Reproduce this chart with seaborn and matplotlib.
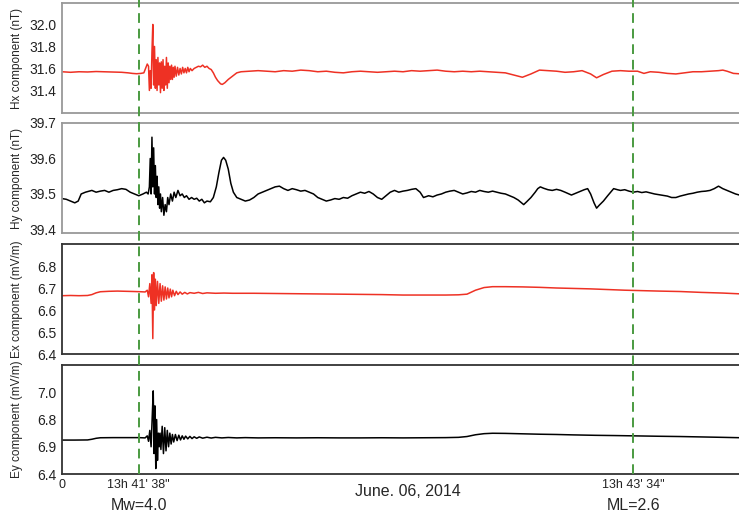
import matplotlib
matplotlib.use("Agg")
import matplotlib.pyplot as plt
import matplotlib.transforms as mtransforms
from matplotlib.lines import Line2D
import seaborn as sns

# ---------------- data (seconds from chart origin) ----------------
hx_t = [0, 2, 4, 6, 8, 10, 12, 14, 15.5, 16.5, 17.5, 18.5, 19.2, 19.6, 20.0, 20.3,
        20.5, 20.7, 20.9, 21.1, 21.3, 21.5, 21.7, 21.9, 22.1, 22.3, 22.5, 22.7, 22.9, 23.1,
        23.3, 23.5, 23.7, 23.9, 24.1, 24.3, 24.5, 24.7, 24.9, 25.1, 25.3, 25.5, 25.7, 25.9,
        26.1, 26.3, 26.5, 26.8, 27.1, 27.4, 27.7, 28.0, 28.3, 28.6, 28.9, 29.2, 29.5, 29.8,
        30.1, 30.5, 31.0, 31.5, 32.0, 32.5, 33.0, 33.5, 34.0, 34.5, 35.0, 35.5, 36.0, 36.5,
        37.2, 37.6, 38.2, 39.0, 40.0, 41.0, 42.0, 44, 46, 48, 50, 52, 54, 56, 58, 60, 62,
        64, 66, 68, 70, 72, 74, 76, 78, 80, 82, 84, 86, 88, 90, 92, 94, 96, 98, 100, 102,
        104, 106, 108, 110, 112, 114, 116, 118, 120, 122, 124, 125.4, 127, 129, 131, 133,
        135, 136.5, 138, 140, 142, 144, 146, 148, 150, 152, 154, 155, 156, 157.5, 159.5]
hx_v = [31.57, 31.565, 31.57, 31.568, 31.572, 31.57, 31.568, 31.565, 31.56, 31.555, 31.552,
        31.555, 31.56, 31.60, 31.64, 31.62,
        31.40, 31.58, 31.42, 31.75, 32.0, 31.45, 31.80, 31.42, 31.68, 31.40, 31.70, 31.45,
        31.65, 31.38, 31.66, 31.42, 31.68, 31.40, 31.62, 31.45, 31.70, 31.42, 31.65, 31.47,
        31.62, 31.50, 31.63, 31.50, 31.61, 31.52, 31.62, 31.53, 31.61, 31.54, 31.60, 31.55,
        31.61, 31.56, 31.60, 31.56, 31.61, 31.57, 31.60, 31.58, 31.60, 31.61, 31.62, 31.615,
        31.63, 31.61, 31.62, 31.60, 31.59, 31.56, 31.52, 31.49, 31.46, 31.455, 31.47, 31.50,
        31.53, 31.56, 31.57, 31.575, 31.58, 31.575, 31.57, 31.58, 31.575, 31.585, 31.58,
        31.57, 31.575, 31.565, 31.56, 31.57, 31.575, 31.57, 31.565, 31.57, 31.575, 31.57,
        31.58, 31.575, 31.58, 31.585, 31.575, 31.57, 31.575, 31.57, 31.575, 31.57, 31.565,
        31.56, 31.54, 31.52, 31.55, 31.585, 31.58, 31.575, 31.565, 31.57, 31.58, 31.55,
        31.515, 31.545, 31.575, 31.58, 31.575, 31.575, 31.555, 31.57, 31.565, 31.555, 31.55,
        31.56, 31.57, 31.57, 31.575, 31.58, 31.585, 31.575, 31.555, 31.55]

hy_t_early = [0, 1, 2, 3, 3.8, 4.5, 5.5, 7, 8, 9, 10, 11, 12, 13, 14, 15, 16, 17, 18, 19,
              19.8, 20.2,
              20.5, 20.7, 20.9, 21.1, 21.3, 21.5, 21.7, 21.9, 22.1, 22.3, 22.5, 22.7, 22.9,
              23.1, 23.3, 23.6, 23.9, 24.2, 24.5, 24.8, 25.1, 25.5, 25.9, 26.3, 26.7, 27.2,
              27.7, 28.2, 28.7, 29.2, 29.8, 30.4, 31, 31.6, 32.2, 32.8, 33.4, 34, 34.8, 35.5,
              36.2, 36.8, 37.4, 37.9, 38.4, 39, 39.6, 40.2]
hy_v_early = [39.487, 39.485, 39.48, 39.475, 39.48, 39.50, 39.505, 39.51, 39.505, 39.508,
              39.51, 39.505, 39.51, 39.512, 39.515, 39.513, 39.505, 39.50, 39.495, 39.50,
              39.505, 39.50,
              39.52, 39.60, 39.50, 39.66, 39.52, 39.63, 39.50, 39.58, 39.49, 39.55, 39.47,
              39.52, 39.46, 39.50, 39.45, 39.49, 39.44, 39.47, 39.45, 39.49, 39.47, 39.50,
              39.48, 39.505, 39.49, 39.51, 39.495, 39.50, 39.49, 39.495, 39.485, 39.49,
              39.485, 39.488, 39.48, 39.485, 39.475, 39.48, 39.478, 39.49, 39.52, 39.56,
              39.595, 39.603, 39.595, 39.57, 39.53, 39.505]
hy_t_mid = [41, 42, 43, 44, 45, 46, 47, 48, 49, 50, 51, 52, 53, 54, 55, 56, 57, 58, 59, 60,
            61, 62, 63, 64, 65, 66, 67, 68, 69, 70, 71, 72, 73, 74, 75, 76, 77, 78, 79, 80,
            81, 82, 83, 84, 84.8, 86, 87, 88, 89, 90, 91, 92, 93, 94, 95, 96, 97, 98, 99, 100]
hy_v_mid = [39.49, 39.485, 39.48, 39.483, 39.49, 39.50, 39.505, 39.51, 39.515, 39.52,
            39.522, 39.515, 39.51, 39.515, 39.512, 39.508, 39.51, 39.505, 39.50, 39.49,
            39.485, 39.48, 39.483, 39.487, 39.485, 39.49, 39.488, 39.495, 39.50, 39.505,
            39.502, 39.507, 39.50, 39.49, 39.485, 39.495, 39.505, 39.51, 39.505, 39.508,
            39.51, 39.513, 39.515, 39.505, 39.49, 39.495, 39.492, 39.497, 39.50, 39.505,
            39.508, 39.51, 39.505, 39.50, 39.503, 39.507, 39.505, 39.51, 39.507, 39.505]
hy_t_late = [101, 102, 103, 104, 105, 106, 107, 107.8, 108.3, 109, 110, 111, 111.6, 112.2,
             113, 114, 115, 116, 117, 118, 119.5, 120.5, 121.5, 122.5, 123.3, 124, 124.8,
             125.4, 126, 127, 128, 129.4, 130.3, 131, 132, 133, 134, 135, 136, 137, 138,
             139, 140, 141, 142, 143, 144, 145, 146, 147, 148, 149, 150, 151, 152, 153, 154,
             155, 156, 157, 158, 159.5]
hy_v_late = [39.508, 39.505, 39.502, 39.50, 39.495, 39.49, 39.483, 39.475, 39.47, 39.478,
             39.49, 39.505, 39.515, 39.52, 39.516, 39.512, 39.51, 39.513, 39.51, 39.505,
             39.497, 39.502, 39.507, 39.512, 39.515, 39.50, 39.475, 39.46, 39.468, 39.48,
             39.495, 39.515, 39.512, 39.51, 39.512, 39.508, 39.505, 39.507, 39.504, 39.506,
             39.503, 39.50, 39.498, 39.496, 39.494, 39.49, 39.49, 39.494, 39.497, 39.50,
             39.502, 39.505, 39.507, 39.508, 39.51, 39.515, 39.522, 39.515, 39.51, 39.505,
             39.50, 39.495]

ex_t = [0, 2, 4, 6, 7, 8, 9, 11, 13, 15, 17, 18.5, 19.5,
        20.0, 20.3, 20.6, 20.9, 21.1, 21.3, 21.5, 21.7, 21.9, 22.1, 22.4, 22.7, 23.0, 23.3,
        23.6, 23.9, 24.2, 24.5, 24.8, 25.1, 25.4, 25.7, 26.0, 26.4, 26.8, 27.2, 27.7, 28.2,
        28.8, 29.4, 30, 31, 32, 33, 34, 36, 38, 40, 45, 50, 55, 60, 65, 70, 75, 80, 85, 90,
        93, 95, 97, 99, 101, 104, 108, 112, 116, 120, 124, 128, 132, 136, 140, 145, 150, 155,
        159.5]
ex_v = [6.665, 6.666, 6.665, 6.666, 6.670, 6.678, 6.683, 6.685, 6.686, 6.685, 6.684, 6.683,
        6.682,
        6.69, 6.66, 6.72, 6.63, 6.76, 6.47, 6.77, 6.60, 6.74, 6.62, 6.73, 6.63, 6.72, 6.64,
        6.71, 6.645, 6.705, 6.65, 6.70, 6.655, 6.695, 6.66, 6.69, 6.665, 6.685, 6.67, 6.682,
        6.672, 6.68, 6.673, 6.679, 6.676, 6.68, 6.675, 6.678, 6.676, 6.677, 6.676, 6.676,
        6.675, 6.674, 6.673, 6.672, 6.671, 6.670, 6.668, 6.668, 6.668, 6.669, 6.672, 6.690,
        6.702, 6.706, 6.706, 6.705, 6.703, 6.700, 6.698, 6.696, 6.693, 6.690, 6.688, 6.686,
        6.684, 6.680, 6.677, 6.673]

ey_t = [0, 3, 6, 7, 8, 9, 12, 15, 18, 19.5,
        20.0, 20.3, 20.6, 20.9, 21.2, 21.4, 21.6, 21.8, 22.0, 22.2, 22.4, 22.6, 22.8, 23.0,
        23.2, 23.5, 23.8, 24.1, 24.4, 24.7, 25.0, 25.3, 25.6, 25.9, 26.2, 26.6, 27.0, 27.4,
        27.8, 28.2, 28.6, 29.0, 29.5, 30, 30.5, 31, 31.6, 32.2, 33, 34, 35, 36, 37.5, 39, 41,
        43, 46, 50, 55, 60, 65, 70, 75, 80, 85, 90, 93, 95, 97, 99, 101, 104, 108, 112, 116,
        120, 125, 130, 134, 140, 145, 150, 155, 159.5]
ey_v = [6.649, 6.649, 6.650, 6.655, 6.662, 6.666, 6.667, 6.667, 6.667, 6.665,
        6.68, 6.64, 6.72, 6.60, 6.85, 7.01, 6.55, 6.90, 6.44, 6.80, 6.50, 6.70, 6.60, 6.70,
        6.58, 6.75, 6.55, 6.74, 6.57, 6.72, 6.60, 6.70, 6.62, 6.69, 6.635, 6.69, 6.645, 6.685,
        6.65, 6.68, 6.655, 6.678, 6.658, 6.676, 6.66, 6.673, 6.662, 6.672, 6.663, 6.670,
        6.664, 6.669, 6.665, 6.668, 6.665, 6.667, 6.665, 6.666, 6.665, 6.666, 6.665, 6.665,
        6.666, 6.665, 6.666, 6.667, 6.669, 6.675, 6.688, 6.696, 6.699, 6.698, 6.695, 6.692,
        6.690, 6.687, 6.684, 6.682, 6.680, 6.677, 6.675, 6.672, 6.669, 6.666]

panel_labels = ["Hx component (nT)", "Hy component (nT)",
                "Ex component (mV/m)", "Ey component (mV/m)"]
hx_ticks = [31.4, 31.6, 31.8, 32.0]
hx_ticklabels = ["31.4", "31.6", "31.8", "32.0"]
hy_ticks = [39.4, 39.5, 39.6, 39.7]
hy_ticklabels = ["39.4", "39.5", "39.6", "39.7"]
ex_ticks = [6.4, 6.5, 6.6, 6.7, 6.8]
ex_ticklabels = ["6.4", "6.5", "6.6", "6.7", "6.8"]
ey_ticks = [6.4, 6.6, 6.8, 7.0]
ey_ticklabels = ["6.4", "6.9", "6.8", "7.0"]
event_times = [18.0, 134.0]
x_ticks = [0, 18.0, 134.0]
x_ticklabels = ["0", "13h 41' 38\"", "13h 43' 34\""]
event_labels = ["Mw=4.0", "ML=2.6"]
date_label = "June. 06, 2014"

hy_t = hy_t_early + hy_t_mid + hy_t_late
hy_v = hy_v_early + hy_v_mid + hy_v_late

# ---------------- figure ----------------
sns.set_style("white")
plt.rcParams['font.family'] = ['Liberation Sans', 'DejaVu Sans']

fig = plt.figure(figsize=(7.39, 5.17), dpi=100)
W, H = 739, 517
left = 62 / W
right_edge = 1.004
boxes = [(3, 113), (123, 233), (244, 354), (365, 474)]
axes = []
for top, bot in boxes:
    ax = fig.add_axes([left, 1 - bot / H, right_edge - left, (bot - top) / H])
    axes.append(ax)

red = "#ee3124"
series = [(hx_t, hx_v, red), (hy_t, hy_v, "black"), (ex_t, ex_v, red), (ey_t, ey_v, "black")]
ylims = [(31.195, 32.195), (39.39, 39.7), (6.4, 6.9), (6.4, 7.2)]
ticks = [(hx_ticks, hx_ticklabels), (hy_ticks, hy_ticklabels),
         (ex_ticks, ex_ticklabels), (ey_ticks, ey_ticklabels)]
spine_cols = ["#999999", "#999999", "#333333", "#333333"]

for i, ax in enumerate(axes):
    t, v, c = series[i]
    sns.lineplot(x=t, y=v, ax=ax, color=c, linewidth=1.1, estimator=None, sort=False)
    ax.set_xlim(0, 159.5)
    ax.set_ylim(*ylims[i])
    ax.set_yticks(ticks[i][0])
    ax.set_yticklabels(ticks[i][1])
    ax.set_ylabel(panel_labels[i], fontsize=8.5)
    ax.yaxis.set_label_coords(-0.057, 0.5)
    for s in ax.spines.values():
        s.set_color(spine_cols[i])
        s.set_linewidth(1.3)
    ax.tick_params(axis='y', direction='in', length=5, width=0.8, colors=spine_cols[i],
                   labelcolor='#222222', labelsize=10, pad=4)
    ax.tick_params(axis='x', direction='in', length=4, width=0.8, colors=spine_cols[i],
                   labelcolor='#222222', labelsize=9)
    ax.set_xticks(x_ticks)
    if i < 3:
        ax.set_xticklabels([])
    else:
        ax.set_xticklabels(x_ticklabels)

# dashed vertical event lines spanning all panels
trans = mtransforms.blended_transform_factory(axes[3].transData, fig.transFigure)
for et in event_times:
    fig.add_artist(Line2D([et, et], [1 - 474 / H, 1.0], transform=trans,
                          color="#4a9a40", linewidth=1.4, linestyle=(0, (5, 3)), zorder=5))

# annotations
for et, lab in zip(event_times, event_labels):
    fig.text(et, 1 - 505 / H, lab, transform=trans, ha='center', va='center', fontsize=11.5)
fig.text(408 / W, 1 - 492 / H, date_label, ha='center', va='center', fontsize=11.5)

fig.savefig("out.png", dpi=100)
